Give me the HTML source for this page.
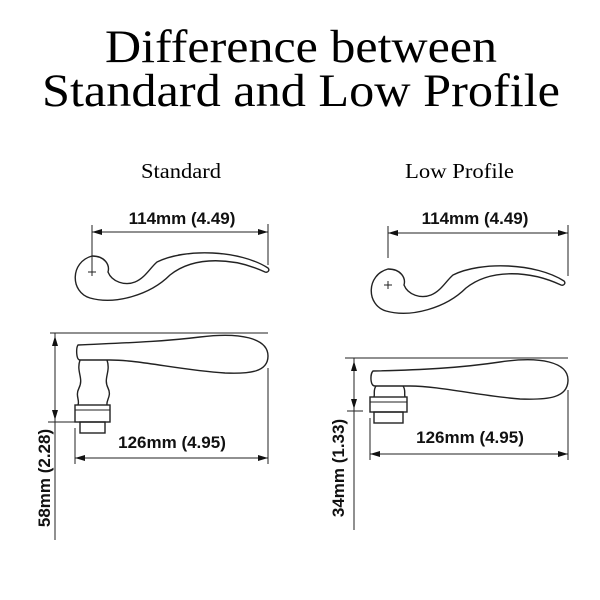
<!DOCTYPE html>
<html><head><style>
html,body{margin:0;padding:0;background:#fff;}
svg{display:block}
.t{font-family:"Liberation Serif",serif;fill:#000}
.d{font-family:"Liberation Sans",sans-serif;font-weight:bold;fill:#111;font-size:17px}
.l{stroke:#222;stroke-width:1;fill:none}
.o{stroke:#222;stroke-width:1.4;fill:none}
</style></head><body>
<svg width="600" height="600" viewBox="0 0 600 600" xmlns="http://www.w3.org/2000/svg">
<defs>
<marker id="a" viewBox="0 0 10 6" refX="10" refY="3" markerWidth="10" markerHeight="6" orient="auto-start-reverse" markerUnits="userSpaceOnUse"><path d="M0,0 L10,3 L0,6 Z" fill="#111"/></marker>
</defs>
<text class="t" x="105" y="62" font-size="47" textLength="392" lengthAdjust="spacingAndGlyphs">Difference between</text>
<text class="t" x="42" y="106" font-size="47" textLength="518" lengthAdjust="spacingAndGlyphs">Standard and Low Profile</text>
<text class="t" x="141" y="178" font-size="21" textLength="80" lengthAdjust="spacingAndGlyphs">Standard</text>
<text class="t" x="405" y="178" font-size="21" textLength="109" lengthAdjust="spacingAndGlyphs">Low Profile</text>

<!-- Standard top -->
<text class="d" x="182" y="224" text-anchor="middle">114mm (4.49)</text>
<line class="l" x1="92" y1="232" x2="268" y2="232" marker-start="url(#a)" marker-end="url(#a)"/>
<line class="l" x1="92" y1="225" x2="92" y2="268"/>
<line class="l" x1="268" y1="224" x2="268" y2="265"/>
<g id="lev">
<path class="o" d="M92,256 C105,256 110,265 108,272 C112,282 125,286 135,282 C145,278 150,268 157,262 C185,248 240,250 268,268 C270,270 268,273 265,272 C235,258 195,255 170,275 C150,295 115,305 90,298 C70,292 70,262 92,256 Z"/>
<path class="l" d="M88,272 H96 M92,268 V276"/>
</g>
<!-- Low top -->
<text class="d" x="475" y="224" text-anchor="middle">114mm (4.49)</text>
<line class="l" x1="388" y1="233" x2="568" y2="233" marker-start="url(#a)" marker-end="url(#a)"/>
<line class="l" x1="388" y1="226" x2="388" y2="258"/>
<line class="l" x1="568" y1="225" x2="568" y2="276"/>
<use href="#lev" transform="translate(296,13)"/>

<!-- Standard side -->
<line class="l" x1="50" y1="333" x2="268" y2="333"/>
<line class="l" x1="55" y1="333" x2="55" y2="540" />
<line class="l" x1="55" y1="336" x2="55" y2="420" marker-start="url(#a)" marker-end="url(#a)"/>
<line class="l" x1="48" y1="422" x2="78" y2="422"/>
<path class="o" d="M78,345 C120,343 160,342 200,337 C240,332 268,338 268,356 C268,372 250,374 225,373 C180,370 140,360 110,360 L80,360 C76,360 76,348 78,345 Z"/>
<path class="o" d="M80,360 C76,372 84,378 79,388 C75,396 80,400 78,405 M107,360 C111,372 103,378 108,388 C112,396 106,400 107,405"/>
<rect class="o" x="75" y="405" width="35" height="17"/>
<line class="l" x1="75" y1="410" x2="110" y2="410"/>
<rect class="o" x="80" y="422" width="25" height="11"/>
<text class="d" x="172" y="448" text-anchor="middle">126mm (4.95)</text>
<line class="l" x1="75" y1="428" x2="75" y2="464"/>
<line class="l" x1="268" y1="368" x2="268" y2="464"/>
<line class="l" x1="75" y1="458" x2="268" y2="458" marker-start="url(#a)" marker-end="url(#a)"/>
<text class="d" transform="translate(50,478) rotate(-90)" text-anchor="middle">58mm (2.28)</text>

<!-- Low side -->
<line class="l" x1="345" y1="358" x2="568" y2="358"/>
<line class="l" x1="354" y1="358" x2="354" y2="530"/>
<line class="l" x1="354" y1="361" x2="354" y2="409" marker-start="url(#a)" marker-end="url(#a)"/>
<line class="l" x1="347" y1="411" x2="363" y2="411"/>
<path class="o" d="M373,371 C420,370 460,368 500,362 C540,356 568,362 568,380 C568,398 548,400 520,399 C480,396 440,386 410,386 L375,386 C370,386 370,374 373,371 Z"/>
<path class="o" d="M376,386 C373,390 375,394 374,397 M403,386 C406,390 404,394 405,397"/>
<rect class="o" x="370" y="397" width="37" height="15"/>
<line class="l" x1="370" y1="402" x2="407" y2="402"/>
<rect class="o" x="374" y="412" width="29" height="11"/>
<text class="d" x="470" y="443" text-anchor="middle">126mm (4.95)</text>
<line class="l" x1="370" y1="418" x2="370" y2="460"/>
<line class="l" x1="568" y1="390" x2="568" y2="460"/>
<line class="l" x1="370" y1="454" x2="568" y2="454" marker-start="url(#a)" marker-end="url(#a)"/>
<text class="d" transform="translate(344,468) rotate(-90)" text-anchor="middle">34mm (1.33)</text>
</svg>
</body></html>
